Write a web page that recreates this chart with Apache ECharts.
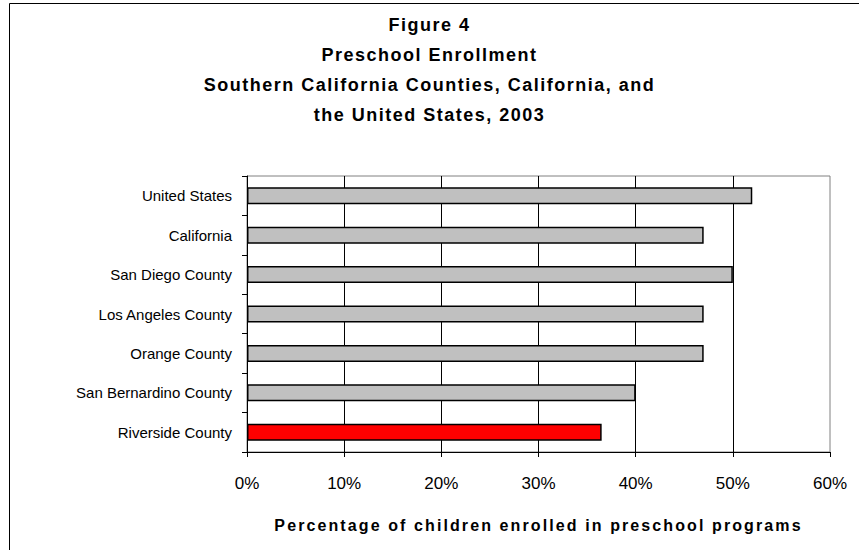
<!DOCTYPE html>
<html>
<head>
<meta charset="utf-8">
<style>
  html, body { margin: 0; padding: 0; background: #fff; }
  #chart { width: 859px; height: 550px; }
  /* bold headings are set with open tracking */
  #chart text[style*="bold"] { letter-spacing: 1.5px; }
  #chart text[style*="bold"][style*="16px"] { letter-spacing: 2.1px; }
</style>
<script src="https://cdn.jsdelivr.net/npm/echarts@6/dist/echarts.min.js"></script>
</head>
<body>
<div id="chart"></div>
<script>
// Regions, listed top to bottom as they appear on the chart
const categories = [
  'United States',
  'California',
  'San Diego County',
  'Los Angeles County',
  'Orange County',
  'San Bernardino County',
  'Riverside County'
];
// Share of children enrolled in preschool, percent
const enrolled = [52, 47, 50, 47, 47, 40, 36.5];
const highlighted = 'Riverside County';
const xTicks = [0, 10, 20, 30, 40, 50, 60];
const titleLines = [
  'Figure 4',
  'Preschool Enrollment',
  'Southern California Counties, California, and',
  'the United States, 2003'
];
const axisTitle = 'Percentage of children enrolled in preschool programs';

const FONT = '"Liberation Sans", Arial, sans-serif';

const chart = echarts.init(document.getElementById('chart'), null, { renderer: 'svg' });

chart.setOption({
  backgroundColor: '#fff',
  animation: false,
  textStyle: { fontFamily: FONT },
  title: {
    text: titleLines.join('\n'),
    left: 'center',
    top: 5,
    textStyle: {
      fontFamily: FONT,
      fontSize: 18,
      fontWeight: 'bold',
      color: '#000',
      lineHeight: 30
    }
  },
  graphic: [{
    type: 'rect',
    silent: true,
    shape: { x: 9.5, y: 3.5, width: 900, height: 600 },
    style: { fill: 'none', stroke: '#000', lineWidth: 1 }
  }],
  grid: {
    left: 247,
    right: 29,
    top: 176,
    bottom: 98,
    show: true,
    borderColor: '#808080',
    borderWidth: 1,
    backgroundColor: '#fff'
  },
  xAxis: {
    type: 'value',
    min: xTicks[0],
    max: xTicks[xTicks.length - 1],
    interval: xTicks[1] - xTicks[0],
    name: axisTitle,
    nameLocation: 'middle',
    nameGap: 65,
    nameTextStyle: {
      fontFamily: FONT,
      fontSize: 16,
      fontWeight: 'bold',
      color: '#000'
    },
    axisLine: { show: true, lineStyle: { color: '#000', width: 1 } },
    axisTick: { show: true, length: 5, inside: false, lineStyle: { color: '#000' } },
    axisLabel: {
      formatter: '{value}%',
      fontFamily: FONT,
      fontSize: 17,
      color: '#000',
      margin: 23
    },
    splitLine: {
      show: true,
      showMinLine: false,
      showMaxLine: false,
      lineStyle: { color: '#000', width: 1 }
    }
  },
  yAxis: {
    type: 'category',
    inverse: true,
    data: categories,
    axisLine: { show: true, lineStyle: { color: '#000', width: 1 } },
    axisTick: { show: true, length: 5, inside: false, alignWithLabel: false, lineStyle: { color: '#000' } },
    axisLabel: {
      fontFamily: FONT,
      fontSize: 15,
      color: '#000',
      margin: 15
    },
    splitLine: { show: false }
  },
  series: [{
    type: 'bar',
    barWidth: 17,
    data: enrolled.map((v, i) => ({
      value: v,
      itemStyle: {
        color: categories[i] === highlighted ? '#ff0000' : '#c0c0c0'
      }
    })),
    itemStyle: { borderColor: '#000', borderWidth: 1.5 }
  }]
});
</script>
</body>
</html>
